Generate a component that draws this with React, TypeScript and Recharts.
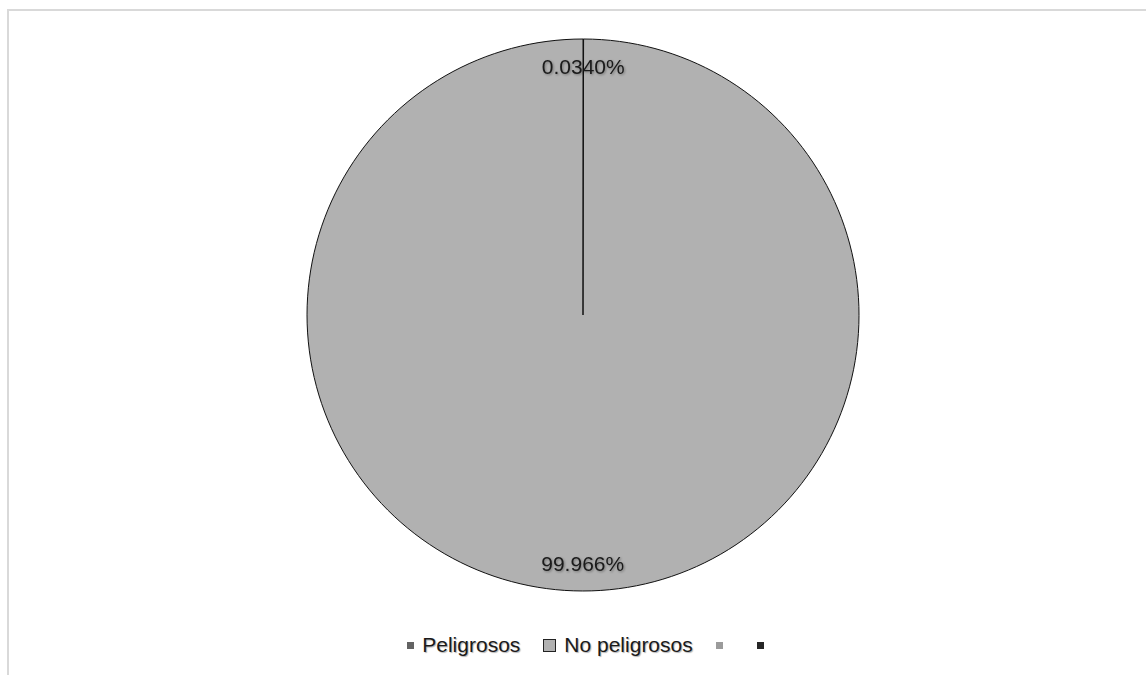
import React from "react";
import { PieChart, Pie, Cell, Legend } from "recharts";

const categories = ["Peligrosos", "No peligrosos", "", ""];
const values = [0.034, 99.966, 0, 0];
const labels = ["0.0340%", "99.966%", "", ""];
const colors = ["#636363", "#b1b1b1", "#9b9b9b", "#262626"];

const data = categories
  .map((name, i) => ({ name, value: values[i], label: labels[i], color: colors[i] }))
  .filter((d) => d.value > 0);

const FONT = "'Liberation Sans', Arial, sans-serif";
const RADIAN = Math.PI / 180;

const renderLabel = (props: any) => {
  const { cx, cy, midAngle, outerRadius, index } = props;
  const r = outerRadius - 27;
  const x = cx + r * Math.cos(-midAngle * RADIAN);
  const y = cy + r * Math.sin(-midAngle * RADIAN);
  return (
    <text
      x={x}
      y={y}
      fill="#1a1a1a"
      fontFamily={FONT}
      fontSize={21}
      textAnchor="middle"
      dominantBaseline="central"
      style={{ filter: "drop-shadow(1px 1px 1px rgba(0,0,0,0.35))" }}
    >
      {data[index].label}
    </text>
  );
};

const renderLegend = () => (
  <div
    style={{
      display: "flex",
      justifyContent: "center",
      alignItems: "center",
      fontFamily: FONT,
      fontSize: 21,
      color: "#1a1a1a",
      textShadow: "1px 1px 1px rgba(0,0,0,0.3)",
    }}
  >
    {categories.map((name, i) => (
      <div
        key={i}
        style={{
          display: "flex",
          alignItems: "center",
          marginRight: i === categories.length - 1 ? 0 : name ? 23 : 34,
        }}
      >
        <span
          style={{
            display: "inline-block",
            width: i === 1 ? 11 : 7,
            height: i === 1 ? 11 : 7,
            background: colors[i],
            border: i === 1 ? "1px solid #222" : "none",
            marginRight: name ? 8 : 0,
          }}
        />
        {name && <span>{name}</span>}
      </div>
    ))}
  </div>
);

export default function App() {
  return (
    <div
      style={{
        position: "fixed",
        left: 0,
        top: 0,
        width: 1146,
        height: 675,
        overflow: "hidden",
        background: "#fff",
      }}
    >
      <div
        style={{
          position: "absolute",
          left: 7,
          top: 9,
          width: 1160,
          height: 700,
          borderTop: "2px solid #d9d9d9",
          borderLeft: "2px solid #d9d9d9",
        }}
      />
      <div style={{ position: "absolute", left: 0, top: 0 }}>
        <PieChart width={1146} height={675} margin={{ top: 0, right: 0, bottom: 0, left: 0 }}>
          <Pie
            data={data}
            dataKey="value"
            nameKey="name"
            cx={583}
            cy={315}
            outerRadius={276}
            startAngle={90}
            endAngle={-270}
            stroke="#111"
            strokeWidth={1}
            label={renderLabel}
            labelLine={false}
            isAnimationActive={false}
          >
            {data.map((d, i) => (
              <Cell key={i} fill={d.color} />
            ))}
          </Pie>
          <Legend
            content={renderLegend}
            wrapperStyle={{ position: "absolute", left: 0, top: 633, width: 1171, height: 30 }}
          />
        </PieChart>
      </div>
    </div>
  );
}
